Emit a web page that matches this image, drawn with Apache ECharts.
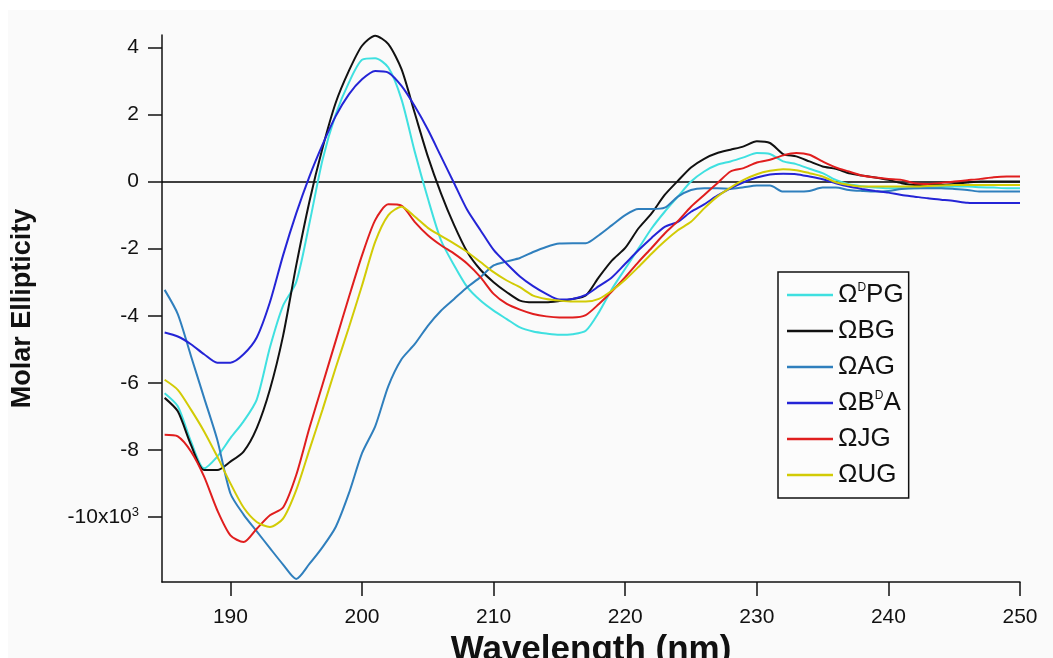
<!DOCTYPE html>
<html>
<head>
<meta charset="utf-8">
<script src="https://cdn.jsdelivr.net/npm/echarts@6/dist/echarts.min.js"></script>
<style>html,body{margin:0;padding:0;background:#fff;}#c{width:1053px;height:658px;}</style>
</head>
<body>
<div id="c"></div>
<script>
// wavelength (nm), 1 nm steps 185..250
var wavelength = [];
for (var w = 185; w <= 250; w++) wavelength.push(w);

var xTicks = [190, 200, 210, 220, 230, 240, 250];
var yTicks = [-10, -8, -6, -4, -2, 0, 2, 4];

var seriesNames = ['ΩDPG', 'ΩBG', 'ΩAG', 'ΩBDA', 'ΩJG', 'ΩUG'];
var seriesColors = ['#3fe0e0', '#111111', '#2f7fbd', '#2424d6', '#e01e1e', '#d2cb05'];

var dPG = [-6.31,-6.7,-7.75,-8.55,-8.2,-7.65,-7.15,-6.5,-4.95,-3.7,-3.0,-1.25,0.65,2.0,2.95,3.63,3.68,3.4,2.45,0.9,-0.5,-1.75,-2.5,-3.15,-3.55,-3.85,-4.1,-4.35,-4.47,-4.53,-4.57,-4.55,-4.45,-3.9,-3.2,-2.6,-2.0,-1.4,-0.9,-0.45,0.0,0.3,0.5,0.6,0.72,0.85,0.82,0.6,0.52,0.38,0.25,0.05,-0.08,-0.14,-0.18,-0.2,-0.2,-0.2,-0.18,-0.16,-0.15,-0.15,-0.17,-0.18,-0.2,-0.2];
var BG = [-6.45,-6.85,-7.85,-8.6,-8.6,-8.35,-8.05,-7.35,-6.2,-4.6,-2.5,-0.6,1.0,2.35,3.3,4.05,4.35,4.1,3.35,2.05,0.75,-0.35,-1.3,-2.1,-2.63,-3.0,-3.3,-3.55,-3.6,-3.6,-3.56,-3.5,-3.4,-2.85,-2.35,-1.98,-1.4,-0.95,-0.4,0.02,0.42,0.68,0.85,0.95,1.05,1.2,1.15,0.82,0.75,0.6,0.45,0.38,0.25,0.18,0.12,0.05,-0.05,-0.1,-0.1,-0.1,-0.07,-0.03,0,0,0,0];
var AG = [-3.23,-3.95,-5.2,-6.45,-7.7,-9.3,-9.93,-10.43,-10.93,-11.42,-11.85,-11.4,-10.9,-10.3,-9.3,-8.1,-7.3,-6.1,-5.3,-4.85,-4.3,-3.85,-3.5,-3.15,-2.85,-2.5,-2.38,-2.28,-2.1,-1.95,-1.85,-1.84,-1.84,-1.6,-1.3,-1.0,-0.82,-0.82,-0.78,-0.45,-0.25,-0.2,-0.2,-0.22,-0.17,-0.12,-0.12,-0.3,-0.3,-0.28,-0.18,-0.18,-0.25,-0.28,-0.3,-0.28,-0.22,-0.2,-0.2,-0.2,-0.22,-0.25,-0.3,-0.3,-0.3,-0.3];
var BDA = [-4.5,-4.62,-4.85,-5.15,-5.4,-5.4,-5.15,-4.65,-3.6,-2.2,-0.95,0.15,1.1,1.95,2.6,3.05,3.3,3.25,2.85,2.25,1.55,0.75,-0.05,-0.85,-1.45,-2.04,-2.45,-2.83,-3.12,-3.35,-3.52,-3.5,-3.38,-3.12,-2.85,-2.45,-2.05,-1.68,-1.35,-1.2,-0.9,-0.68,-0.42,-0.2,-0.02,0.12,0.21,0.23,0.22,0.15,0.07,-0.05,-0.15,-0.22,-0.28,-0.33,-0.4,-0.45,-0.5,-0.54,-0.58,-0.63,-0.64,-0.64,-0.64,-0.64];
var JG = [-7.55,-7.6,-8.05,-8.8,-9.8,-10.55,-10.75,-10.35,-9.95,-9.72,-8.75,-7.35,-6.05,-4.75,-3.45,-2.2,-1.15,-0.68,-0.72,-1.2,-1.6,-1.9,-2.15,-2.45,-2.85,-3.35,-3.65,-3.82,-3.95,-4.02,-4.05,-4.05,-3.98,-3.65,-3.27,-2.85,-2.4,-1.98,-1.55,-1.18,-0.75,-0.4,-0.05,0.3,0.4,0.57,0.65,0.78,0.85,0.8,0.6,0.42,0.3,0.18,0.12,0.08,0.05,-0.05,-0.07,-0.04,0.0,0.04,0.08,0.13,0.15,0.15];
var UG = [-5.91,-6.21,-6.8,-7.45,-8.2,-9.0,-9.72,-10.15,-10.3,-10.05,-9.2,-8.0,-6.8,-5.55,-4.35,-3.1,-1.8,-1.0,-0.75,-1.04,-1.38,-1.62,-1.85,-2.1,-2.4,-2.7,-2.95,-3.15,-3.4,-3.5,-3.55,-3.58,-3.58,-3.5,-3.25,-2.93,-2.55,-2.15,-1.78,-1.45,-1.2,-0.8,-0.45,-0.18,0.05,0.22,0.32,0.37,0.34,0.25,0.15,-0.02,-0.1,-0.15,-0.15,-0.15,-0.15,-0.15,-0.13,-0.12,-0.1,-0.1,-0.1,-0.1,-0.1,-0.1];

var allValues = [dPG, BG, AG, BDA, JG, UG];

function pairs(vals) {
  return wavelength.map(function (x, i) { return [x, vals[i]]; });
}

var series = allValues.map(function (vals, i) {
  var s = {
    name: seriesNames[i],
    type: 'line',
    data: pairs(vals),
    symbol: 'none',
    smooth: 0.25,
    lineStyle: { width: 2, color: seriesColors[i] },
    itemStyle: { color: seriesColors[i] },
    z: 3
  };
  if (i === 0) {
    s.markLine = {
      silent: true,
      symbol: 'none',
      label: { show: false },
      lineStyle: { color: '#000', width: 1.5, type: 'solid' },
      data: [{ yAxis: 0 }],
      z: 1
    };
  }
  return s;
});

var chart = echarts.init(document.getElementById('c'));
chart.setOption({
  backgroundColor: '#ffffff',
  animation: false,
  graphic: [{
    type: 'rect', left: 8, top: 10, z: -10,
    shape: { width: 1045, height: 648 },
    style: { fill: '#fafafa' }
  }],
  grid: { left: 162, right: 33, top: 35, bottom: 76, containLabel: false, outerBoundsMode: 'none' },
  xAxis: {
    type: 'value',
    min: 184.8, max: 250,
    name: 'Wavelength (nm)',
    nameLocation: 'middle',
    nameGap: 47,
    nameTextStyle: { fontFamily: 'Liberation Sans', fontWeight: 'bold', fontSize: 35, color: '#111' },
    axisLine: { show: true, onZero: false, lineStyle: { color: '#111', width: 1.5 } },
    axisTick: { show: true, inside: false, length: 14, customValues: xTicks, lineStyle: { color: '#111', width: 1.5 } },
    axisLabel: { show: true, margin: 25, customValues: xTicks, fontFamily: 'Liberation Sans', fontSize: 21, color: '#111' },
    splitLine: { show: false }
  },
  yAxis: {
    type: 'value',
    min: -11.94, max: 4.37,
    name: 'Molar Ellipticity',
    nameLocation: 'middle',
    nameGap: 126,
    nameRotate: 90,
    nameTextStyle: { fontFamily: 'Liberation Sans', fontWeight: 'bold', fontSize: 27, color: '#111' },
    axisLine: { show: true, onZero: false, lineStyle: { color: '#111', width: 1.5 } },
    axisTick: { show: true, inside: false, length: 14, customValues: yTicks, lineStyle: { color: '#111', width: 1.5 } },
    axisLabel: {
      show: true, margin: 23, customValues: yTicks,
      fontFamily: 'Liberation Sans', fontSize: 21, color: '#111',
      formatter: function (v) {
        if (v === -10) return '{a|-10x10}{b|3}';
        return '{a|' + v + '}';
      },
      rich: {
        a: { fontFamily: 'Liberation Sans', fontSize: 21, color: '#111', lineHeight: 22 },
        b: { fontFamily: 'Liberation Sans', fontSize: 13, color: '#111', verticalAlign: 'top', lineHeight: 22 }
      }
    },
    splitLine: { show: false }
  },
  legend: {
    orient: 'vertical',
    left: 778, top: 272,
    padding: [10, 5, 10, 9],
    itemGap: 10,
    itemWidth: 46,
    itemHeight: 2.5,
    icon: 'rect',
    borderColor: '#111',
    borderWidth: 1.5,
    backgroundColor: '#fcfcfc',
    data: seriesNames,
    formatter: function (name) {
      if (name === 'ΩDPG') return '{t|Ω}{s|D}{t|PG}';
      if (name === 'ΩBDA') return '{t|ΩB}{s|D}{t|A}';
      return '{t|' + name + '}';
    },
    textStyle: {
      padding: [0, 0, 0, 0],
      rich: {
        t: { fontFamily: 'Liberation Sans', fontSize: 26, color: '#111', lineHeight: 26 },
        s: { fontFamily: 'Liberation Sans', fontSize: 12, color: '#111', verticalAlign: 'top', lineHeight: 26 }
      }
    }
  },
  series: series
});
</script>
</body>
</html>
